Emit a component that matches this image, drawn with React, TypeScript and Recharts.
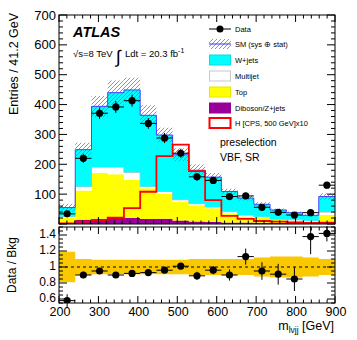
import React from 'react';
import { ComposedChart, Area, Line, Scatter, ErrorBar, XAxis, YAxis, ReferenceLine } from 'recharts';

// ---------- data ----------
const binEdges = [200, 241.2, 282.4, 323.5, 364.7, 405.9, 447.1, 488.2, 529.4, 570.6, 611.8, 652.9, 694.1, 735.3, 776.5, 817.6, 858.8, 900];
const diboson = [3, 14, 18, 22, 20, 17, 18, 12, 8, 7, 5, 5, 4, 3, 3, 3, 8];
const top = [19, 98, 153, 145, 128, 103, 84, 63, 55, 46, 31, 20, 16, 10, 8, 6, 22];
const multijet = [3, 14, 20, 24, 25, 6, 7, 6, 5, 4, 5, 5, 4, 3, 3, 2, 10];
const wjets = [30, 123, 203, 249, 276, 238, 189, 151, 112, 100, 68, 57, 42, 31, 24, 18, 52];
const smUnc = [13, 23, 35, 41, 41, 34, 24, 22, 19, 14, 9, 8, 7, 5, 4, 4, 11];
const signalX10 = [2, 8, 13, 21, 53, 108, 227, 266, 177, 80, 27, 17, 10, 8, 5, 4, 3];
const dataVals = [34, 220, 371, 392, 413, 337, 288, 237, 158, 146, 92, 94, 56, 39, 30, 38, 130];
const dataErr = [6, 15, 19, 20, 20, 18, 17, 15, 13, 12, 10, 10, 8, 6, 5, 6, 11];
const ratioVals = [0.58, 0.90, 0.95, 0.90, 0.92, 0.93, 0.96, 1.01, 0.89, 0.96, 0.90, 1.13, 0.95, 0.91, 0.85, 1.38, 1.42];
const ratioErr = [0.08, 0.04, 0.03, 0.03, 0.03, 0.03, 0.03, 0.04, 0.05, 0.05, 0.07, 0.10, 0.11, 0.13, 0.15, 0.22, 0.10];
const bandUnc = [0.19, 0.10, 0.09, 0.09, 0.09, 0.09, 0.09, 0.09, 0.10, 0.10, 0.10, 0.10, 0.12, 0.13, 0.13, 0.12, 0.10];
const mainYMajor = [100, 200, 300, 400, 500, 600, 700];
const ratioYMajor = [0.6, 0.8, 1, 1.2, 1.4];
const xMajor = [200, 300, 400, 500, 600, 700, 800, 900];

const legendItems = ['Data', 'SM (sys \u2295 stat)', 'W+jets', 'Multijet', 'Top', 'Diboson/Z+jets', 'H [CPS, 500 GeV]x10'];

// ---------- layout ----------
const W = 357;
const PL = 59;
const PR = 335;
const PW = PR - PL;
const MAIN_TOP = 15;
const MAIN_H = 226;
const MAIN_XH = 2;
const MAIN_PH = MAIN_H - MAIN_TOP - MAIN_XH;
const R_TOP = 226;
const R_H = 114;
const R_MT = 1;
const R_XH = 37;
const R_PH = R_H - R_MT - R_XH;

const FONT = '"Liberation Sans", Arial, Helvetica, sans-serif';

// ---------- derived tables ----------
const nb = dataVals.length;
const rowFor = (i: number, x: number) => {
  const total = diboson[i] + top[i] + multijet[i] + wjets[i];
  return {
    x,
    dib: diboson[i],
    top: top[i],
    mj: multijet[i],
    wj: wjets[i],
    total,
    band: [total - smUnc[i], total + smUnc[i]],
    sig: signalX10[i],
    rband: [1 - bandUnc[i], 1 + bandUnc[i]],
  };
};
const histRows = binEdges.slice(0, nb).map((e, i) => rowFor(i, e));
histRows.push(rowFor(nb - 1, binEdges[nb]));

const dataPts = dataVals.map((v, i) => ({
  x: (binEdges[i] + binEdges[i + 1]) / 2,
  y: v,
  ey: dataErr[i],
  ex: (binEdges[i + 1] - binEdges[i]) / 2,
}));
const ratioPts = ratioVals.map((v, i) => ({
  x: (binEdges[i] + binEdges[i + 1]) / 2,
  y: v,
  ey: ratioErr[i],
  ex: (binEdges[i + 1] - binEdges[i]) / 2,
}));

const xTicks: number[] = [];
for (let v = 200; v <= 900; v += 20) xTicks.push(v);
const mainYTicks: number[] = [];
for (let v = 0; v <= 700; v += 20) mainYTicks.push(v);
const ratioYTicks: number[] = [];
for (let k = 11; k <= 30; k++) ratioYTicks.push(Math.round(k * 5) / 100);

const isMajor = (arr: number[], v: number) => arr.some((m) => Math.abs(m - v) < 1e-6);

// ---------- ticks ----------
const MainYTick = (props: any) => {
  const { x, y, payload } = props;
  const v = payload.value;
  const major = isMajor(mainYMajor, v) || v === 0;
  const len = major ? 8 : 4;
  return (
    <g>
      <line x1={x} y1={y} x2={x + len} y2={y} stroke="#000" strokeWidth={1} />
      <line x1={x + PW} y1={y} x2={x + PW - len} y2={y} stroke="#000" strokeWidth={1} />
      {isMajor(mainYMajor, v) && (
        <text x={x - 3} y={y} textAnchor="end" dominantBaseline="central" fontSize={13} fill="#000">
          {v}
        </text>
      )}
    </g>
  );
};

const MainXTick = (props: any) => {
  const { x, y, payload } = props;
  const major = isMajor(xMajor, payload.value);
  const len = major ? 7 : 3.5;
  return (
    <g>
      <line x1={x} y1={y} x2={x} y2={y - len} stroke="#000" strokeWidth={1} />
      <line x1={x} y1={y - MAIN_PH} x2={x} y2={y - MAIN_PH + len} stroke="#000" strokeWidth={1} />
    </g>
  );
};

const RatioYTick = (props: any) => {
  const { x, y, payload } = props;
  const v = payload.value;
  const major = isMajor(ratioYMajor, v);
  const len = major ? 8 : 4;
  return (
    <g>
      <line x1={x} y1={y} x2={x + len} y2={y} stroke="#000" strokeWidth={1} />
      <line x1={x + PW} y1={y} x2={x + PW - len} y2={y} stroke="#000" strokeWidth={1} />
      {major && (
        <text x={x - 3} y={y - 1} textAnchor="end" dominantBaseline="central" fontSize={12} fill="#000">
          {String(v)}
        </text>
      )}
    </g>
  );
};

const RatioXTick = (props: any) => {
  const { x, y, payload } = props;
  const major = isMajor(xMajor, payload.value);
  const len = major ? 7 : 3.5;
  return (
    <g>
      <line x1={x} y1={y} x2={x} y2={y - len} stroke="#000" strokeWidth={1} />
      <line x1={x} y1={y - R_PH} x2={x} y2={y - R_PH + len} stroke="#000" strokeWidth={1} />
      {major && (
        <text x={x + 1} y={y + 13} textAnchor="middle" fontSize={12.5} fill="#000">
          {payload.value}
        </text>
      )}
    </g>
  );
};

const DataDot = (props: any) => {
  const { cx, cy } = props;
  if (cx == null || cy == null) return null;
  return <circle cx={cx} cy={cy} r={3.6} fill="#000" />;
};

// ---------- legend ----------
const LegendRow = ({ i, y }: { i: number; y: number }) => {
  const bx = 209;
  const bw = 22;
  const bh = 10;
  let sw: React.ReactNode = null;
  if (i === 0) {
    sw = (
      <g>
        <line x1={bx} y1={y} x2={bx + bw} y2={y} stroke="#000" strokeWidth={1} />
        <circle cx={bx + bw / 2} cy={y} r={3.5} fill="#000" />
      </g>
    );
  } else if (i === 1) {
    sw = (
      <g>
        <rect x={bx} y={y - bh / 2} width={bw} height={bh} fill="url(#hatchLeg)" />
        <line x1={bx} y1={y} x2={bx + bw} y2={y} stroke="#3c3cff" strokeWidth={1} />
      </g>
    );
  } else {
    const fills = ['', '', '#00ffff', '#ffffff', '#ffff00', '#990099', '#ffffff'];
    const strokes = ['', '', '#00e0e0', '#c8c8c8', '#e8e800', '#990099', '#ff0000'];
    sw = (
      <rect
        x={bx + 0.5}
        y={y - bh / 2}
        width={bw - 1}
        height={bh}
        fill={fills[i]}
        stroke={strokes[i]}
        strokeWidth={i === 6 ? 2 : 1}
      />
    );
  }
  return (
    <g>
      {sw}
      <text x={235} y={y} dominantBaseline="central" fontSize={7.5} fill="#000">
        {legendItems[i]}
      </text>
    </g>
  );
};

export default function App() {
  const legendY = [29, 44, 60, 76, 92, 108, 123];
  return (
    <div style={{ position: 'absolute', left: 0, top: 0, width: W, height: 340, background: '#fff', fontFamily: FONT }}>
      <svg width={0} height={0} style={{ position: 'absolute' }}>
        <defs>
          <pattern id="hatch" patternUnits="userSpaceOnUse" width={4} height={4}>
            <path d="M-1,1 l2,-2 M0,4 l4,-4 M3,5 l2,-2" stroke="#7a7a7a" strokeWidth={0.8} />
          </pattern>
          <pattern id="hatchLeg" patternUnits="userSpaceOnUse" width={4} height={4}>
            <path d="M-1,1 l2,-2 M0,4 l4,-4 M3,5 l2,-2" stroke="#7a7a7a" strokeWidth={0.8} />
          </pattern>
        </defs>
      </svg>

      {/* main panel */}
      <div style={{ position: 'absolute', left: 0, top: 0 }}>
        <ComposedChart
          width={W}
          height={MAIN_H}
          data={histRows}
          margin={{ top: MAIN_TOP, right: W - PR, bottom: 0, left: 0 }}
        >
          <XAxis
            dataKey="x"
            type="number"
            domain={[200, 900]}
            ticks={xTicks}
            interval={0}
            height={MAIN_XH}
            tickSize={0}
            tickMargin={0}
            axisLine={false}
            tickLine={false}
            tick={MainXTick}
            allowDataOverflow
          />
          <YAxis
            type="number"
            domain={[0, 700]}
            ticks={mainYTicks}
            interval={0}
            width={PL}
            tickSize={0}
            tickMargin={0}
            axisLine={false}
            tickLine={false}
            tick={MainYTick}
            allowDataOverflow
          />
          <Area type="stepAfter" dataKey="dib" stackId="mc" fill="#990099" fillOpacity={1} stroke="none" isAnimationActive={false} />
          <Area type="stepAfter" dataKey="top" stackId="mc" fill="#ffff00" fillOpacity={1} stroke="none" isAnimationActive={false} />
          <Area type="stepAfter" dataKey="mj" stackId="mc" fill="#ffffff" fillOpacity={1} stroke="#b8b8b8" strokeWidth={1} isAnimationActive={false} />
          <Area type="stepAfter" dataKey="wj" stackId="mc" fill="#00ffff" fillOpacity={1} stroke="none" isAnimationActive={false} />
          <Area type="stepAfter" dataKey="band" fill="url(#hatch)" fillOpacity={1} stroke="none" isAnimationActive={false} />
          <Line type="stepAfter" dataKey="total" stroke="#4646ff" strokeWidth={1} dot={false} isAnimationActive={false} />
          <Line type="stepAfter" dataKey="sig" stroke="#ff0000" strokeWidth={1.8} dot={false} isAnimationActive={false} />
          <Scatter data={dataPts} dataKey="y" shape={DataDot} isAnimationActive={false}>
            <ErrorBar dataKey="ey" direction="y" width={0} stroke="#000" strokeWidth={1} isAnimationActive={false} />
            <ErrorBar dataKey="ex" direction="x" width={0} stroke="#000" strokeWidth={1} isAnimationActive={false} />
          </Scatter>
        </ComposedChart>
      </div>

      {/* ratio panel */}
      <div style={{ position: 'absolute', left: 0, top: R_TOP }}>
        <ComposedChart
          width={W}
          height={R_H}
          data={histRows}
          margin={{ top: R_MT, right: W - PR, bottom: 0, left: 0 }}
        >
          <XAxis
            dataKey="x"
            type="number"
            domain={[200, 900]}
            ticks={xTicks}
            interval={0}
            height={R_XH}
            tickSize={0}
            tickMargin={0}
            axisLine={false}
            tickLine={false}
            tick={RatioXTick}
            allowDataOverflow
          />
          <YAxis
            type="number"
            domain={[0.55, 1.5]}
            ticks={ratioYTicks}
            interval={0}
            width={PL}
            tickSize={0}
            tickMargin={0}
            axisLine={false}
            tickLine={false}
            tick={RatioYTick}
            allowDataOverflow
          />
          <Area type="stepAfter" dataKey="rband" fill="#fac800" fillOpacity={1} stroke="none" isAnimationActive={false} />
          <ReferenceLine y={1} stroke="#000" strokeDasharray="3 3" strokeWidth={1} />
          <Scatter data={ratioPts} dataKey="y" shape={DataDot} isAnimationActive={false}>
            <ErrorBar dataKey="ey" direction="y" width={0} stroke="#000" strokeWidth={1} isAnimationActive={false} />
            <ErrorBar dataKey="ex" direction="x" width={0} stroke="#000" strokeWidth={1} isAnimationActive={false} />
          </Scatter>
        </ComposedChart>
      </div>

      {/* overlay: frames, labels, legend */}
      <svg width={W} height={340} style={{ position: 'absolute', left: 0, top: 0, pointerEvents: 'none' }}>
        <rect x={PL} y={MAIN_TOP} width={PW} height={MAIN_PH} fill="none" stroke="#000" strokeWidth={1} />
        <rect x={PL} y={R_TOP + R_MT} width={PW} height={R_PH} fill="none" stroke="#000" strokeWidth={1} />

        <text x={73} y={37} fontSize={14.5} fontWeight="bold" fontStyle="italic" fill="#000">ATLAS</text>
        <text x={73} y={57} fontSize={9.5} fill="#000">{'\u221As=8 TeV'}</text>
        <text x={116} y={63} fontSize={18} fill="#000">{'\u222B'}</text>
        <text x={125} y={57} fontSize={9.5} fill="#000">
          Ldt = 20.3 fb<tspan dy={-4} fontSize={7}>-1</tspan>
        </text>

        {legendY.map((y, i) => (
          <LegendRow key={i} i={i} y={y} />
        ))}

        <text x={220} y={142} dominantBaseline="central" fontSize={10.5} fill="#000">preselection</text>
        <text x={220} y={157} dominantBaseline="central" fontSize={10.5} fill="#000">VBF, SR</text>

        <text
          transform="translate(14,64) rotate(-90)"
          textAnchor="middle"
          dominantBaseline="central"
          fontSize={12.5}
          fill="#000"
        >
          Entries / 41.2 GeV
        </text>
        <text
          transform="translate(12,265) rotate(-90)"
          textAnchor="middle"
          dominantBaseline="central"
          fontSize={12}
          fill="#000"
        >
          Data / Bkg
        </text>
        <text x={334} y={330} textAnchor="end" fontSize={12.5} fill="#000">
          m<tspan fontSize={8.5} dy={3}>{'l\u03BDjj'}</tspan>
          <tspan dy={-3}> [GeV]</tspan>
        </text>
      </svg>
    </div>
  );
}
